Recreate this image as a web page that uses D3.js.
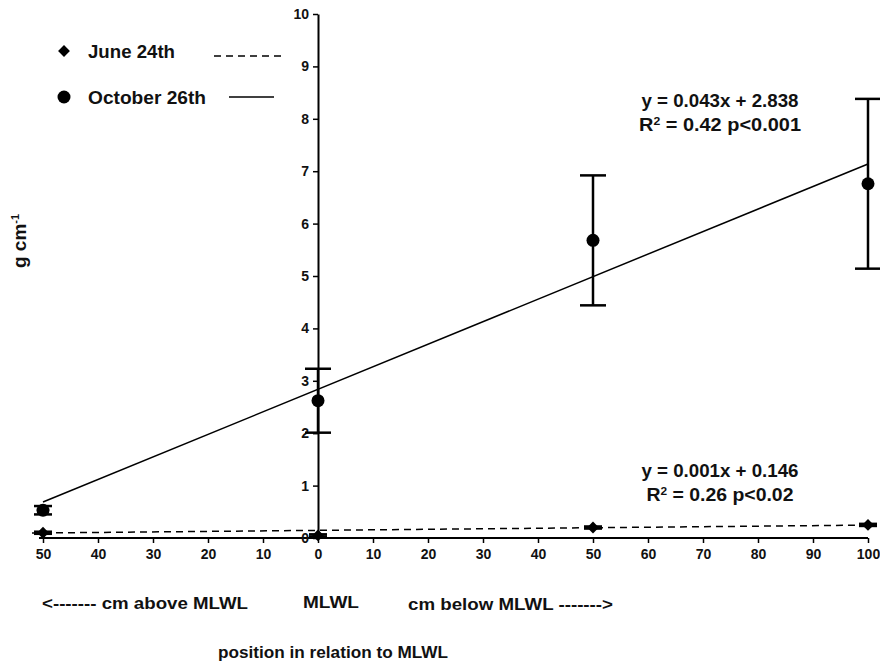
<!DOCTYPE html>
<html><head><meta charset="utf-8">
<script src="https://cdn.jsdelivr.net/npm/d3@7/dist/d3.min.js"></script>
<style>body{margin:0;background:#fff}svg text{font-family:"Liberation Sans",Arial,sans-serif;font-weight:bold;fill:#111}</style>
</head><body><svg id="c" width="880" height="665"></svg>
<script>
// positions relative to MLWL (negative = above, positive = below)
const positions = [-50, 0, 50, 100];
const juneMeans = [0.10, 0.05, 0.20, 0.25];
const juneErr = [0.02, 0.02, 0.02, 0.02];
const octMeans = [0.53, 2.62, 5.68, 6.76];
const octErr = [0.08, 0.61, 1.24, 1.62];
const juneFit = {slope: 0.001, intercept: 0.146};
const octFit = {slope: 0.043, intercept: 2.838};
const xTicks = [-50, -40, -30, -20, -10, 0, 10, 20, 30, 40, 50, 60, 70, 80, 90, 100];
const yTicks = [0, 1, 2, 3, 4, 5, 6, 7, 8, 9, 10];

const svg = d3.select("#c");
const x = d3.scaleLinear().domain([-50, 100]).range([43, 868]);
const y = d3.scaleLinear().domain([0, 10]).range([538, 14]);

// condensed bold text helper
function label(xp, yp, size, str, len, anchor) {
  const t = svg.append("text").attr("x", xp).attr("y", yp).attr("font-size", size).text(str);
  if (anchor) t.attr("text-anchor", anchor);
  if (len) t.attr("textLength", len).attr("lengthAdjust", "spacingAndGlyphs");
  return t;
}

// x axis along the bottom
const xAxis = d3.axisBottom(x).tickValues(xTicks).tickFormat(d => Math.abs(d)).tickSize(5).tickSizeOuter(0);
const gx = svg.append("g").attr("transform", `translate(0,${y(0)})`).call(xAxis);
gx.select(".domain").attr("stroke", "#000").attr("stroke-width", 2).attr("d", `M${x(-50)-4},0H${x(100)}`);
gx.selectAll(".tick line").attr("stroke", "#000").attr("stroke-width", 1.5);
gx.selectAll(".tick text").attr("font-size", 14).attr("dy", "0.95em");

// y axis at MLWL (x = 0)
const yAxis = d3.axisLeft(y).tickValues(yTicks).tickSize(5).tickSizeOuter(0);
const gy = svg.append("g").attr("transform", `translate(${x(0)},0)`).call(yAxis);
gy.select(".domain").attr("stroke", "#000").attr("stroke-width", 2);
gy.selectAll(".tick line").attr("stroke", "#000").attr("stroke-width", 1.5);
gy.selectAll(".tick text").attr("font-size", 14).attr("x", -9);

// regression lines
svg.append("line")
  .attr("x1", x(-50)).attr("x2", x(100))
  .attr("y1", y(octFit.slope * -50 + octFit.intercept)).attr("y2", y(octFit.slope * 100 + octFit.intercept))
  .attr("stroke", "#000").attr("stroke-width", 1.5);
svg.append("line")
  .attr("x1", x(-52)).attr("x2", x(100))
  .attr("y1", y(juneFit.slope * -52 + juneFit.intercept)).attr("y2", y(juneFit.slope * 100 + juneFit.intercept))
  .attr("stroke", "#000").attr("stroke-width", 1.5).attr("stroke-dasharray", "7,5");

// error bars
function errorBars(means, errs, capW) {
  const g = svg.append("g").attr("stroke", "#000").attr("stroke-width", 2.5);
  positions.forEach((p, i) => {
    const cx = x(p), lo = y(means[i] - errs[i]), hi = y(means[i] + errs[i]);
    const w = typeof capW === "function" ? capW(i) : capW;
    g.append("line").attr("x1", cx).attr("x2", cx).attr("y1", lo).attr("y2", hi);
    g.append("line").attr("x1", cx - w / 2).attr("x2", cx + w / 2).attr("y1", lo).attr("y2", lo);
    g.append("line").attr("x1", cx - w / 2).attr("x2", cx + w / 2).attr("y1", hi).attr("y2", hi);
  });
}
errorBars(octMeans, octErr, i => i === 0 ? 18 : 26);
errorBars(juneMeans, juneErr, 18);

// points
svg.append("g").selectAll("circle").data(positions).join("circle")
  .attr("cx", d => x(d)).attr("cy", (d, i) => y(octMeans[i])).attr("r", 6.5).attr("fill", "#000");
const diamond = d3.symbol().type(d3.symbolSquare).size(70);
svg.append("g").selectAll("path").data(positions).join("path")
  .attr("d", diamond).attr("fill", "#000")
  .attr("transform", (d, i) => `translate(${x(d)},${y(juneMeans[i])}) rotate(45)`);

// legend
svg.append("path").attr("d", diamond).attr("fill", "#000").attr("transform", "translate(64,51) rotate(45)");
label(88, 58, 18, "June 24th", 87);
svg.append("line").attr("x1", 214).attr("x2", 281).attr("y1", 56).attr("y2", 56)
  .attr("stroke", "#000").attr("stroke-width", 1.5).attr("stroke-dasharray", "7,5");
svg.append("circle").attr("cx", 64).attr("cy", 97).attr("r", 6.5).attr("fill", "#000");
label(88, 104, 18, "October 26th", 118);
svg.append("line").attr("x1", 229).attr("x2", 274).attr("y1", 97).attr("y2", 97)
  .attr("stroke", "#000").attr("stroke-width", 1.5);

// fit equations
function eq(cx, cy, l1, r2, w1, w2) {
  label(cx, cy, 18, l1, w1, "middle");
  const t = svg.append("text").attr("x", cx).attr("y", cy + 24).attr("text-anchor", "middle").attr("font-size", 18)
    .attr("textLength", w2).attr("lengthAdjust", "spacingAndGlyphs");
  t.append("tspan").text("R");
  t.append("tspan").attr("font-size", 11).attr("dy", -6).text("2");
  t.append("tspan").attr("dy", 6).text(" = " + r2);
}
eq(720, 107, "y = 0.043x + 2.838", "0.42 p<0.001", 157, 162);
eq(720, 477, "y = 0.001x + 0.146", "0.26 p<0.02", 157, 147);

// y axis label
const yl = svg.append("text").attr("transform", "translate(26,241) rotate(-90)").attr("text-anchor", "middle").attr("font-size", 19);
yl.append("tspan").text("g cm");
yl.append("tspan").attr("font-size", 11).attr("dy", -7).text("-1");

// position labels
label(42, 609, 17, "<------- cm above MLWL", 206);
label(303, 608, 17, "MLWL", 56);
label(408, 610, 17, "cm below MLWL ------->", 205);
label(218, 658, 17, "position in relation to MLWL", 230);
</script></body></html>
